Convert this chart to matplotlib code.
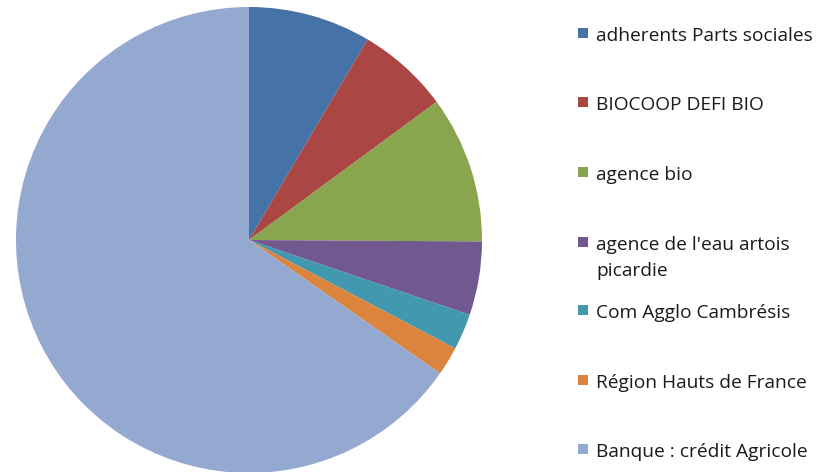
import matplotlib
matplotlib.use('Agg')
import matplotlib.pyplot as plt
from matplotlib.patches import Rectangle

# funding sources (share in %)
labels = ["adherents Parts sociales", "BIOCOOP DEFI BIO", "agence bio",
          "agence de l'eau artois\npicardie", "Com Agglo Cambrésis",
          "Région Hauts de France", "Banque : crédit Agricole"]
values = [8.5, 6.4, 10.2, 5.1, 2.5, 2.0, 65.3]
colors = ["#4572A7", "#AA4643", "#89A54E", "#71588F", "#4198AF", "#DB843D", "#93A9CF"]

W, H = 823, 472
fig = plt.figure(figsize=(W / 100, H / 100), dpi=100)

# pie: centre ~(249, 240) px, radius ~233 px
cx, cy, r = 249, 240, 233
ax = fig.add_axes([(cx - r) / W, (H - cy - r) / H, 2 * r / W, 2 * r / H])
ax.pie(values, colors=colors, startangle=90, counterclock=False,
       wedgeprops=dict(linewidth=0))
ax.set_xlim(-1, 1)
ax.set_ylim(-1, 1)
ax.set_aspect('auto')
ax.axis('off')

# legend drawn by hand so the spacing matches the original
row_y = [33, 102, 172, 242, 310, 380, 449]
for lab, col, y in zip(labels, colors, row_y):
    fig.patches.append(Rectangle((578 / W, 1 - (y + 5) / H), 10 / W, 10 / H,
                                 transform=fig.transFigure, facecolor=col,
                                 edgecolor='none'))
    # one text per line, 26 px apart, so the first line stays next to the square
    for k, line in enumerate(lab.split("\n")):
        fig.text(596 / W, 1 - (y + 8 + 26 * k) / H, line, fontsize=13.8,
                 family='Open Sans', color='#1a1a1a', va='baseline', ha='left')

fig.savefig("out.png", dpi=100)
